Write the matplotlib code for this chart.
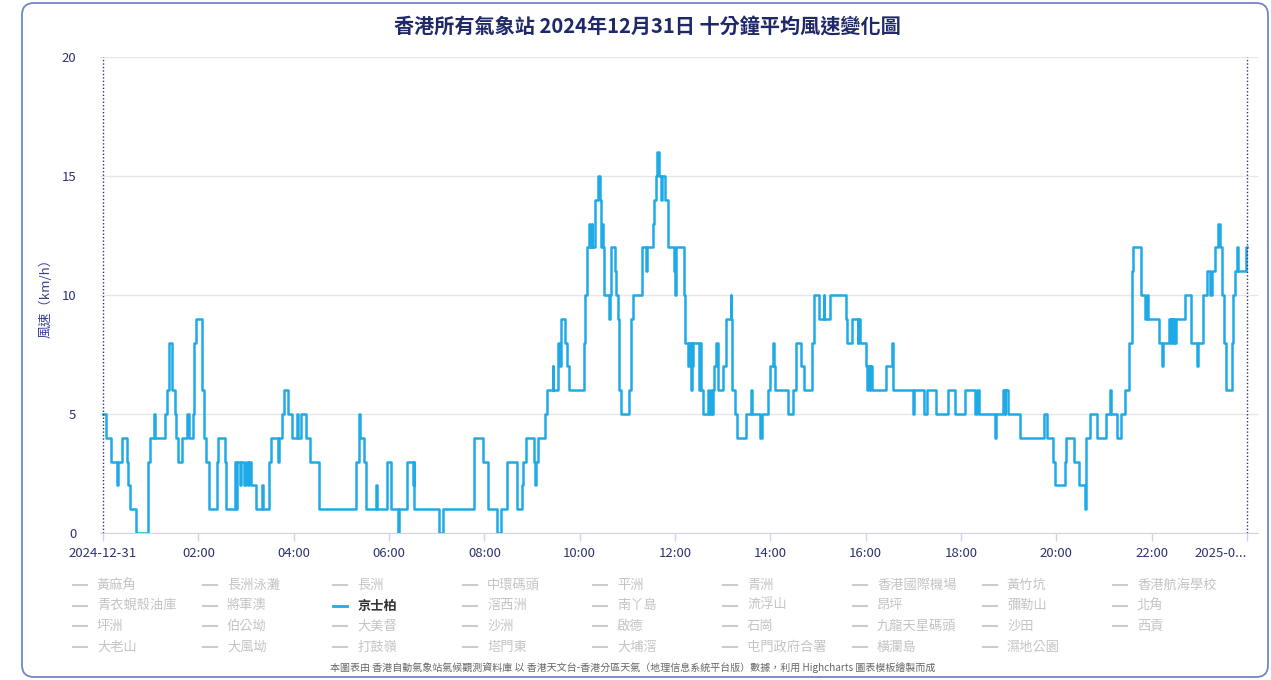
import matplotlib
matplotlib.use("Agg")
import matplotlib.pyplot as plt
from matplotlib.patches import FancyBboxPatch
from matplotlib.lines import Line2D

plt.rcParams['font.family'] = ['Noto Sans CJK TC', 'DejaVu Sans']

# 京士柏 10-min mean wind speed: minute of day where the value changes, and the new value (km/h)
change_min = [0, 4, 10, 17, 19, 24, 30, 32, 34, 42, 56, 57, 59, 64, 66, 78, 81, 83, 87, 90,
              92, 94, 100, 106, 108, 113, 114, 117, 124, 127, 130, 133, 143, 145, 153, 155, 166, 168, 169, 172,
              174, 177, 180, 182, 184, 186, 193, 200, 202, 209, 211, 220, 221, 225, 228, 233, 238, 244, 245, 249,
              256, 261, 272, 319, 322, 323, 329, 331, 344, 345, 357, 363, 371, 373, 383, 390, 391, 392, 423, 428,
              467, 478, 484, 496, 501, 509, 521, 528, 529, 533, 542, 544, 545, 548, 556, 559, 566, 567, 573, 575,
              576, 577, 582, 584, 586, 605, 607, 609, 612, 613, 615, 616, 619, 623, 625, 627, 628, 629, 631, 637,
              638, 640, 644, 646, 648, 650, 652, 662, 665, 667, 678, 679, 684, 685, 692, 694, 696, 697, 700, 703,
              704, 707, 711, 719, 720, 721, 731, 733, 736, 738, 740, 741, 742, 743, 750, 752, 753, 755, 762, 763,
              765, 766, 768, 769, 771, 774, 781, 784, 790, 791, 792, 795, 798, 810, 816, 817, 827, 829, 837, 840,
              843, 845, 846, 862, 869, 872, 879, 883, 892, 895, 901, 907, 908, 915, 935, 937, 943, 950, 951, 953,
              960, 962, 963, 965, 966, 968, 986, 993, 994, 1019, 1021, 1034, 1037, 1048, 1064, 1072, 1085, 1098, 1100, 1103,
              1123, 1124, 1133, 1135, 1136, 1139, 1154, 1184, 1188, 1196, 1198, 1211, 1212, 1222, 1229, 1236, 1238, 1243, 1251, 1262,
              1267, 1269, 1276, 1281, 1287, 1291, 1295, 1297, 1307, 1312, 1314, 1315, 1329, 1333, 1334, 1342, 1344, 1345, 1347, 1348,
              1350, 1351, 1362, 1369, 1377, 1379, 1385, 1390, 1393, 1396, 1400, 1404, 1406, 1408, 1411, 1414, 1421, 1423, 1425, 1428,
              1429, 1439, 1440]
speed = [5, 4, 3, 2, 3, 4, 3, 2, 1, 0, 1, 3, 4, 5, 4, 5, 6, 8, 6, 5,
         4, 3, 4, 5, 4, 5, 8, 9, 6, 4, 3, 1, 3, 4, 3, 1, 3, 1, 3, 2,
         3, 2, 3, 2, 3, 2, 1, 2, 1, 3, 4, 3, 4, 5, 6, 5, 4, 5, 4, 5,
         4, 3, 1, 3, 5, 4, 3, 1, 2, 1, 3, 1, 0, 1, 3, 2, 3, 1, 0, 1,
         4, 3, 1, 0, 1, 3, 1, 2, 3, 4, 3, 2, 3, 4, 5, 6, 7, 6, 8, 7,
         8, 9, 8, 7, 6, 8, 10, 12, 13, 12, 13, 12, 14, 15, 14, 12, 13, 12, 10, 9,
         10, 12, 11, 10, 9, 6, 5, 6, 9, 10, 11, 12, 11, 12, 13, 14, 15, 16, 15, 14,
         15, 14, 12, 11, 10, 12, 10, 8, 7, 8, 6, 8, 7, 8, 6, 8, 6, 5, 6, 5,
         6, 5, 6, 7, 8, 6, 7, 9, 10, 9, 6, 5, 4, 5, 6, 5, 4, 5, 6, 7,
         8, 7, 6, 5, 6, 8, 7, 6, 8, 10, 9, 10, 9, 10, 9, 8, 9, 8, 9, 8,
         7, 6, 7, 6, 7, 6, 7, 8, 6, 5, 6, 5, 6, 5, 6, 5, 6, 5, 6, 5,
         4, 5, 6, 5, 6, 5, 4, 5, 4, 3, 2, 3, 4, 3, 2, 1, 4, 5, 4, 5,
         6, 5, 4, 5, 6, 8, 11, 12, 10, 9, 10, 9, 8, 7, 8, 9, 8, 9, 8, 9,
         8, 9, 10, 8, 7, 8, 10, 11, 10, 11, 12, 13, 12, 10, 8, 6, 8, 10, 11, 12,
         11, 12, 12]

tick_min = list(range(0, 1441, 120))
tick_labels = ["2024-12-31", "02:00", "04:00", "06:00", "08:00", "10:00", "12:00",
               "14:00", "16:00", "18:00", "20:00", "22:00", "2025-0..."]

stations = ["黃麻角", "長洲泳灘", "長洲", "中環碼頭", "平洲", "青洲", "香港國際機場", "黃竹坑", "香港航海學校",
            "青衣蜆殼油庫", "將軍澳", "京士柏", "滘西洲", "南丫島", "流浮山", "昂坪", "彌勒山", "北角",
            "坪洲", "伯公坳", "大美督", "沙洲", "啟德", "石崗", "九龍天星碼頭", "沙田", "西貢",
            "大老山", "大風坳", "打鼓嶺", "塔門東", "大埔滘", "屯門政府合署", "橫瀾島", "濕地公園"]
shown = "京士柏"

line_color = "#1eaae6"
navy = "#2e3170"
W, H = 1271, 680

fig = plt.figure(figsize=(W / 100, H / 100), dpi=100)
fig.patch.set_facecolor("white")

# rounded outer border
fig.add_artist(FancyBboxPatch((0.22, 0.03), 12.46, 6.74,
                              boxstyle="round,pad=0,rounding_size=0.12",
                              transform=fig.dpi_scale_trans, fill=False,
                              edgecolor="#7086c8", linewidth=1.3))

ax = fig.add_axes([100 / W, 1 - 533 / H, 1158 / W, 476 / H])
ax.step(change_min, speed, where="post", color=line_color, linewidth=1.8, zorder=3)

ax.set_xlim(-3.8, 1453.9)
ax.set_ylim(0, 20)
ax.set_yticks([0, 5, 10, 15, 20])
ax.set_xticks(tick_min)
ax.set_xticklabels(tick_labels)
ax.get_xticklabels()[-1].set_ha("right")

ax.grid(axis="y", color="#e6e6e6", linewidth=1)
ax.set_axisbelow(True)
for s in ["top", "right", "left"]:
    ax.spines[s].set_visible(False)
ax.spines["bottom"].set_color("#ccd6eb")

ax.tick_params(axis="y", length=0, pad=17, labelsize=9.5, labelcolor=navy)
ax.tick_params(axis="x", length=6, width=1, color="#ccd6eb", pad=4, labelsize=9.5, labelcolor=navy)

# dotted markers at start and end of the day
for m in [0, 1440]:
    ax.axvline(m, color=navy, linestyle=(0, (1, 1.5)), linewidth=1, zorder=4)

ax.set_ylabel("風速（km/h）", fontsize=9.5, color="#3a3f8f")
ax.yaxis.set_label_coords(-0.041, 0.5)

fig.text(647 / W, 1 - 27 / H, "香港所有氣象站 2024年12月31日 十分鐘平均風速變化圖",
         ha="center", va="center", fontsize=14.5, fontweight="bold", color="#1f2868")

# legend: 9 items per row
for i, name in enumerate(stations):
    row, col = divmod(i, 9)
    x0 = 73 + col * 130
    y = 1 - (585 + row * 20.7) / H
    on = name == shown
    fig.add_artist(Line2D([x0 / W, (x0 + 14) / W], [y, y], transform=fig.transFigure,
                          color=line_color if on else "#cccccc", linewidth=2 if on else 1.5))
    fig.text((x0 + 24) / W, y, name, ha="left", va="center", fontsize=9.5,
             color="#333333" if on else "#c4c4c4", fontweight="bold" if on else "normal")

fig.text(633 / W, 1 - 668 / H,
         "本圖表由 香港自動氣象站氣候觀測資料庫 以 香港天文台-香港分區天氣（地理信息系統平台版）數據，利用 Highcharts 圖表模板繪製而成",
         ha="center", va="center", fontsize=7.2, color="#666666")

fig.savefig("out.png", dpi=100)
